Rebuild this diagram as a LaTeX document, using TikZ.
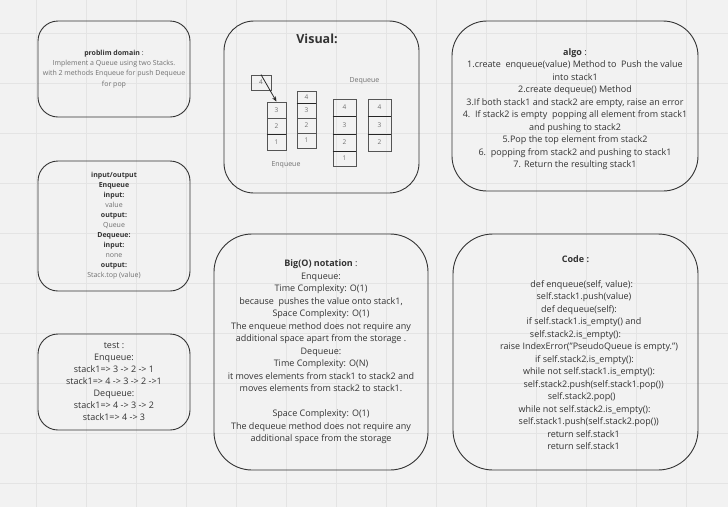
\documentclass[tikz,border=0pt]{standalone}
\usepackage{fontspec}
\setmainfont{Open Sans}
\usetikzlibrary{arrows.meta}
\definecolor{bg}{HTML}{F2F2F2}
\definecolor{gridc}{HTML}{E4E4E4}
\definecolor{ink}{HTML}{333333}
\definecolor{soft}{HTML}{707070}
\definecolor{cellline}{HTML}{555555}
\begin{document}
\begin{tikzpicture}[x=1pt,y=-1pt,
  card/.style={draw=ink, line width=0.9pt, inner sep=0pt, align=center, text=ink},
  smalltxt/.style={font=\fontsize{7}{10.2}\selectfont},
  bigtxt/.style={font=\fontsize{9}{12.5}\selectfont},
  codeline/.style={font=\fontsize{9}{11}\selectfont, text=ink, inner sep=0pt, anchor=base},
  cell/.style={draw=cellline, line width=0.8pt, inner sep=0pt, text=soft, font=\fontsize{6.5}{8}\selectfont},
  sep/.style={draw=black!85, line width=1.6pt},
  lbl/.style={text=soft, font=\fontsize{7}{9}\selectfont, inner sep=0pt},
  arr/.style={-{Stealth[length=5pt,width=4pt]}, draw=black!85, line width=0.8pt}]
\useasboundingbox (0,0) rectangle (728,507);
\fill[bg] (0,0) rectangle (728,507);
\foreach \gx in {36,86,...,686} \draw[gridc, line width=0.6pt] (\gx,0) -- (\gx,507);
\foreach \gy in {33,83,...,483} \draw[gridc, line width=0.6pt] (0,\gy) -- (728,\gy);

% problem domain
\node[card, rounded corners=20pt, minimum width=152pt, minimum height=96pt, smalltxt] (prob) at (114,69)
 {\textbf{problim domain} :\\ \textcolor{soft}{Implement a Queue using two Stacks.}\\ \textcolor{soft}{with 2 methods Enqueue for push Dequeue}\\ \textcolor{soft}{for pop}};

% input / output
\node[card, rounded corners=20pt, minimum width=152pt, minimum height=130pt, font=\fontsize{7}{10}\selectfont] (io) at (114,226)
 {\textbf{input/output}\\ \textbf{Enqueue}\\ \textbf{input:}\\ \textcolor{soft}{value}\\ \textbf{output:}\\ \textcolor{soft}{Queue}\\ \textbf{Dequeue:}\\ \textbf{input:}\\ \textcolor{soft}{none}\\ \textbf{output:}\\ \textcolor{soft}{Stack.top (value)}};

% test
\node[card, rounded corners=20pt, minimum width=152pt, minimum height=96pt, font=\fontsize{9}{12}\selectfont] (test) at (114,382)
 {test :\\ Enqueue:\\ stack1=> 3 -> 2 -> 1\\ stack1=> 4 -> 3 -> 2 ->1\\ Dequeue:\\ stack1=> 4 -> 3 -> 2\\ stack1=> 4 -> 3};

% visual
\node[card, rounded corners=30pt, minimum width=195pt, minimum height=172pt] (vis) at (321.5,107) {};
\node[text=ink, font=\fontsize{12.5}{14}\selectfont\bfseries, inner sep=0pt] (vistitle) at (317,39) {Visual:};

\node[cell, minimum width=20pt, minimum height=15pt] (f4) at (261,82.5) {4};

\node[cell, minimum width=19pt, minimum height=16pt] (a3) at (276.5,110) {3};
\node[cell, minimum width=19pt, minimum height=16pt] (a2) at (276.5,126) {2};
\node[cell, minimum width=19pt, minimum height=16pt] (a1) at (276.5,142) {1};
\draw[sep] (a2.south west) -- (a2.south east);

\node[cell, minimum width=19pt, minimum height=12pt] (b4) at (306.5,97) {4};
\node[cell, minimum width=19pt, minimum height=15pt] (b3) at (306.5,110.5) {3};
\node[cell, minimum width=19pt, minimum height=15pt] (b2) at (306.5,125.5) {2};
\node[cell, minimum width=19pt, minimum height=15pt] (b1) at (306.5,140.5) {1};
\draw[sep] (b4.south west) -- (b4.south east);

\node[cell, minimum width=23pt, minimum height=17pt] (c4) at (344.5,107.5) {4};
\node[cell, minimum width=23pt, minimum height=18pt] (c3) at (344.5,125) {3};
\node[cell, minimum width=23pt, minimum height=17pt] (c2) at (344.5,142.5) {2};
\node[cell, minimum width=23pt, minimum height=15pt] (c1) at (344.5,158.5) {1};
\draw[sep] (c4.south west) -- (c4.south east);
\draw[sep] (c3.south west) -- (c3.south east);
\draw[sep] (c2.south west) -- (c2.south east);

\node[cell, minimum width=23pt, minimum height=17pt] (d4) at (379.5,107.5) {4};
\node[cell, minimum width=23pt, minimum height=18pt] (d3) at (379.5,125) {3};
\node[cell, minimum width=23pt, minimum height=17pt] (d2) at (379.5,142.5) {2};
\draw[sep] (d4.south west) -- (d4.south east);
\draw[sep] (d3.south west) -- (d3.south east);

\draw[arr] (f4.north) -- (a3.north);

\node[lbl] (deqlbl) at (364.5,80.5) {Dequeue};
\node[lbl] (enqlbl) at (286,165) {Enqueue};

% algo
\node[card, rounded corners=35pt, minimum width=246pt, minimum height=170pt] (algo) at (575,106) {};
\node[text=ink, align=center, inner sep=0pt, bigtxt] (algotxt) at (575,109)
 {\textbf{algo} :\\ 1.create\ \ enqueue(value) Method to\ \ Push the value\\ into stack1\\ 2.create dequeue() Method\\ 3.If both stack1 and stack2 are empty, raise an error\\ 4.\ \ If stack2 is empty\ \ popping all element from stack1\\ and pushing to stack2\\ 5.Pop the top element from stack2\\ 6.\ \ popping from stack2 and pushing to stack1\\ 7. Return the resulting stack1};

% big O
\node[card, rounded corners=38pt, minimum width=214pt, minimum height=236pt, bigtxt] (bigo) at (321,352)
 {\textbf{Big(O) notation} :\\ Enqueue:\\ Time Complexity: O(1)\\ because\ \ pushes the value onto stack1,\\ Space Complexity: O(1)\\ The enqueue method does not require any\\ additional space apart from the storage .\\ Dequeue:\\ Time Complexity: O(N)\\ it moves elements from stack1 to stack2 and\\ moves elements from stack2 to stack1.\\ \mbox{}\\ Space Complexity: O(1)\\ The dequeue method does not require any\\ additional space from the storage};

% code
\node[card, rounded corners=40pt, minimum width=245pt, minimum height=236pt] (code) at (575.5,352) {};
\node[codeline, font=\fontsize{9}{11}\selectfont\bfseries] (ct) at (575.5,262) {Code :};
\node[codeline] (k1) at (581.7,287) {def enqueue(self, value):};
\node[codeline] (k2) at (584,299.5) {self.stack1.push(value)};
\node[codeline] (k3) at (579,312) {def dequeue(self):};
\node[codeline] (k4) at (584,324.5) {if self.stack1.is\_empty() and};
\node[codeline] (k5) at (575.5,337) {self.stack2.is\_empty():};
\node[codeline] (k6) at (589,349.5) {raise IndexError("PseudoQueue is empty.")};
\node[codeline] (k7) at (584.5,362) {if self.stack2.is\_empty():};
\node[codeline] (k8) at (589,374.5) {while not self.stack1.is\_empty():};
\node[codeline] (k9) at (593.7,387) {self.stack2.push(self.stack1.pop())};
\node[codeline] (k10) at (581.7,399.5) {self.stack2.pop()};
\node[codeline] (k11) at (584.5,412) {while not self.stack2.is\_empty():};
\node[codeline] (k12) at (588.8,424.5) {self.stack1.push(self.stack2.pop())};
\node[codeline] (k13) at (583.5,437) {return self.stack1};
\node[codeline] (k14) at (583.5,449.5) {return self.stack1};
\end{tikzpicture}
\end{document}
